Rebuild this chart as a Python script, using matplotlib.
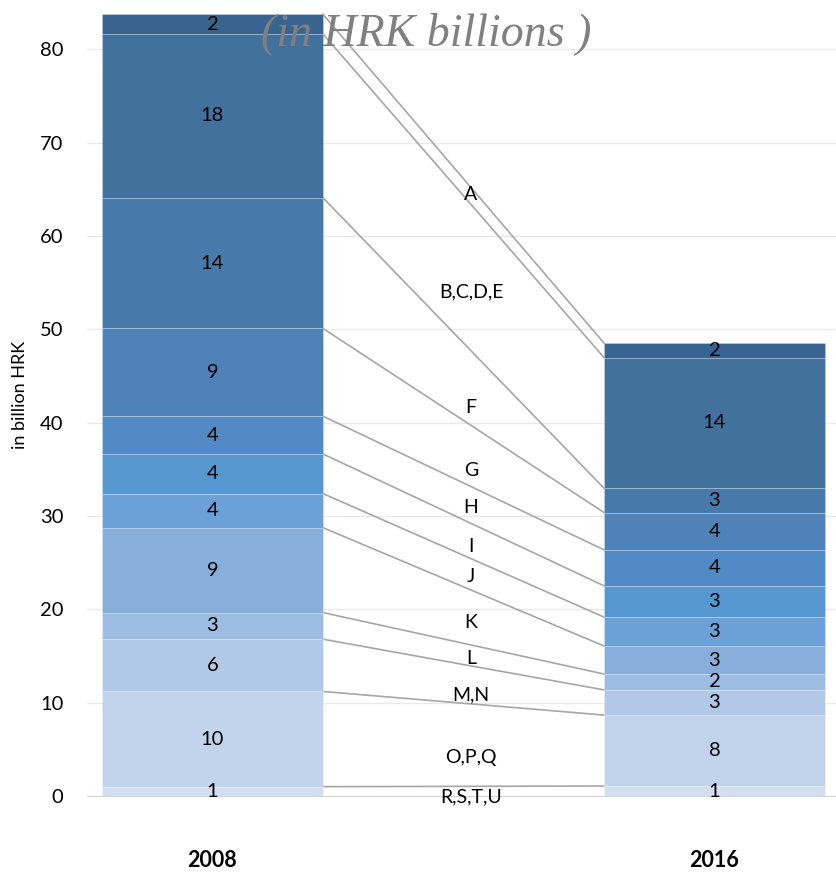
import numpy as np
import matplotlib.pyplot as plt

# Gross value added by activity group (in HRK billions), bottom to top of each stack
groups = ['R,S,T,U', 'O,P,Q', 'M,N', 'L', 'K', 'J', 'I', 'H', 'G', 'F', 'B,C,D,E', 'A']
years = ['2008', '2016']
values_2008 = [1.0, 10.2, 5.6, 2.85, 9.1, 3.65, 4.25, 4.05, 9.4, 14.0, 17.55, 2.1]
values_2016 = [1.07, 7.6, 2.7, 1.7, 3.0, 3.1, 3.35, 3.85, 4.0, 2.6, 14.0, 1.55]

# where the group names sit between the two bars
group_label_y = [-0.1, 4.1, 10.8, 14.7, 18.6, 23.5, 26.7, 30.9, 34.9, 41.6, 54.0, 64.4]

colors = ['#d3dff0', '#c2d4eb', '#b1c8e6', '#9dbce2', '#88afdc', '#6ba1d7',
          '#5797d0', '#518ac4', '#4e82b8', '#4879ab', '#41719c', '#3a6490']

plt.rcParams['font.family'] = ['Lato', 'DejaVu Sans']

fig = plt.figure(figsize=(8.36, 8.72), dpi=100)
ax = fig.add_axes([87 / 836, 1 - 796 / 872, 753 / 836, (796 - 12) / 872])

x_pos = [0, 2]
width = 0.88
stacks = [values_2008, values_2016]

for xi, vals in zip(x_pos, stacks):
    bottom = 0
    for v, c in zip(vals, colors):
        ax.bar(xi, v, width=width, bottom=bottom, color=c,
               edgecolor=(1, 1, 1, 0.25), linewidth=0.7, zorder=3)
        ax.text(xi, bottom + v / 2, f'{v:.0f}', ha='center', va='center',
                fontsize=14.5, color='black', zorder=5)
        bottom += v

# connecting lines between segment boundaries
cum_2008 = np.cumsum(values_2008)
cum_2016 = np.cumsum(values_2016)
for y0, y1 in zip(cum_2008, cum_2016):
    ax.plot([x_pos[0] + width / 2, x_pos[1] - width / 2], [y0, y1],
            color='#a6a6a6', linewidth=1.2, zorder=2)

for name, y in zip(groups, group_label_y):
    ax.text(1.03, y, name, ha='center', va='center', fontsize=14, zorder=5)

ax.set_xlim(-0.5, 2.5)
ax.set_ylim(0, 84)
ax.set_yticks(range(0, 81, 10))
ax.set_xticks([])
ax.tick_params(axis='y', length=0, labelsize=14.5, pad=17)
ax.grid(axis='y', color='#e9e9e9', linewidth=1, zorder=0)
ax.set_axisbelow(True)
for s in ['top', 'right', 'left']:
    ax.spines[s].set_visible(False)
ax.spines['bottom'].set_color('#d4d4d4')
ax.spines['bottom'].set_zorder(1)

for xi, yr in zip(x_pos, years):
    ax.text(xi, -6.9, yr, ha='center', va='center', fontsize=15.5,
            fontweight='bold', transform=ax.transData, clip_on=False)

fig.text(20 / 836, 1 - 395 / 872, 'in billion HRK', rotation=90,
         ha='center', va='center', fontsize=13)

fig.text(426 / 836, 1 - 34 / 872, '(in HRK billions )', ha='center', va='center',
         fontsize=33, fontstyle='italic', family='Liberation Serif',
         color='#808080', zorder=10)

fig.savefig('out.png', dpi=100)
